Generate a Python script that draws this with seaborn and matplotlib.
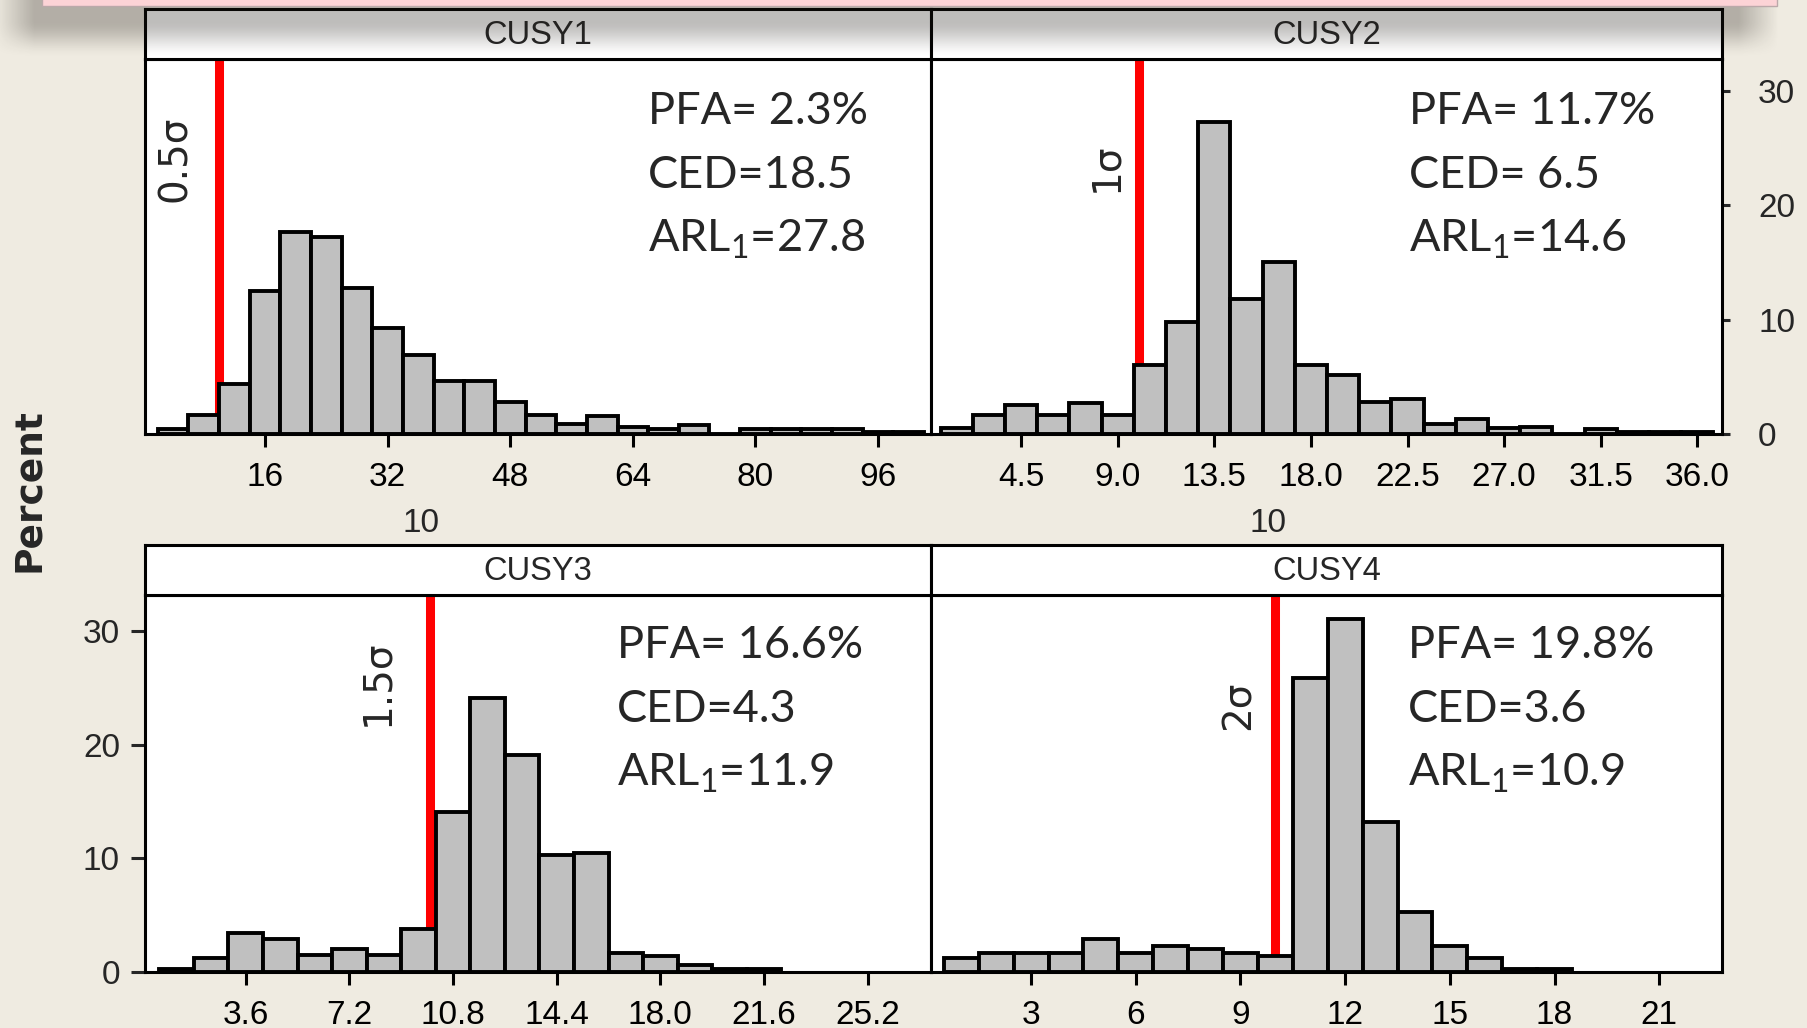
import numpy as np
import pandas as pd
import matplotlib
matplotlib.use('Agg')
import matplotlib.pyplot as plt
import seaborn as sns
from matplotlib.patches import Rectangle

sns.set_style('white')
plt.rcParams['font.family'] = ['Liberation Sans', 'DejaVu Sans']

# histogram bins (centres) and percent heights
cusy1_mid = [4, 8, 12, 16, 20, 24, 28, 32, 36, 40, 44, 48, 52, 56, 60, 64, 68, 72, 76, 80, 84, 88, 92, 96, 100]
cusy1_pct = [0.4, 1.65, 4.35, 12.5, 17.7, 17.2, 12.8, 9.3, 6.95, 4.6, 4.6, 2.8, 1.7, 0.9, 1.6, 0.6,
             0.45, 0.8, 0.0, 0.45, 0.45, 0.45, 0.45, 0.15, 0.15]

cusy2_mid = [1.5, 3.0, 4.5, 6.0, 7.5, 9.0, 10.5, 12.0, 13.5, 15.0, 16.5, 18.0, 19.5, 21.0, 22.5,
             24.0, 25.5, 27.0, 28.5, 30.0, 31.5, 33.0, 34.5, 36.0]
cusy2_pct = [0.5, 1.65, 2.5, 1.65, 2.75, 1.65, 6.05, 9.8, 27.3, 11.85, 15.05, 6.05, 5.2, 2.8, 3.1,
             0.9, 1.3, 0.55, 0.6, 0.0, 0.45, 0.15, 0.15, 0.15]

cusy3_mid = [1.2, 2.4, 3.6, 4.8, 6.0, 7.2, 8.4, 9.6, 10.8, 12.0, 13.2, 14.4, 15.6, 16.8, 18.0, 19.2, 20.4, 21.6]
cusy3_pct = [0.3, 1.2, 3.45, 2.95, 1.5, 2.05, 1.5, 3.8, 14.05, 24.1, 19.1, 10.3, 10.5, 1.7, 1.45, 0.6, 0.3, 0.3]

cusy4_mid = [1, 2, 3, 4, 5, 6, 7, 8, 9, 10, 11, 12, 13, 14, 15, 16, 17, 18]
cusy4_pct = [1.2, 1.7, 1.7, 1.7, 2.95, 1.7, 2.3, 2.05, 1.7, 1.4, 25.85, 31.1, 13.2, 5.25, 2.3, 1.2, 0.3, 0.3]

bin_width = [4, 1.5, 1.2, 1.0]
panel_names = ['CUSY1', 'CUSY2', 'CUSY3', 'CUSY4']
x_ticks = [[16, 32, 48, 64, 80, 96],
           [4.5, 9.0, 13.5, 18.0, 22.5, 27.0, 31.5, 36.0],
           [3.6, 7.2, 10.8, 14.4, 18.0, 21.6, 25.2],
           [3, 6, 9, 12, 15, 18, 21]]
x_tick_labels = [['16', '32', '48', '64', '80', '96'],
                 ['4.5', '9.0', '13.5', '18.0', '22.5', '27.0', '31.5', '36.0'],
                 ['3.6', '7.2', '10.8', '14.4', '18.0', '21.6', '25.2'],
                 ['3', '6', '9', '12', '15', '18', '21']]
x_limits = [(0.35, 102.9), (0.3, 37.15), (0.1, 27.4), (0.13, 22.8)]
y_ticks = [0, 10, 20, 30]
limit_line = 10
sigma_labels = ['0.5σ', '1σ', '1.5σ', '2σ']
pfa = ['PFA= 2.3%', 'PFA= 11.7%', 'PFA= 16.6%', 'PFA= 19.8%']
ced = ['CED=18.5', 'CED= 6.5', 'CED=4.3', 'CED=3.6']
arl = ['27.8', '14.6', '11.9', '10.9']

mids = [cusy1_mid, cusy2_mid, cusy3_mid, cusy4_mid]
pcts = [cusy1_pct, cusy2_pct, cusy3_pct, cusy4_pct]

bg = '#EFEBE1'
W, H = 1808, 1028
fig = plt.figure(figsize=(W / 100, H / 100), dpi=100, facecolor=bg)

# panel rectangles in pixels: left, right, top, bottom
boxes = [(145, 931, 59, 434), (931, 1722, 59, 434), (145, 931, 595, 972), (931, 1722, 595, 972)]
y_top = [32.8, 32.8, 33.2, 33.2]
sigma_pos = [(0.038, 0.733), (0.222, 0.712), (0.295, 0.766), (0.389, 0.708)]
stat_x = [0.640, 0.604, 0.600, 0.603]
stat_y = [(0.860, 0.689, 0.519), (0.860, 0.689, 0.519), (0.866, 0.696, 0.526), (0.866, 0.696, 0.526)]

lw = 2.2
for i in range(4):
    l, r, t, b = boxes[i]
    ax = fig.add_axes([l / W, 1 - b / H, (r - l) / W, (b - t) / H])
    ax.set_facecolor('white')
    df = pd.DataFrame({'mid': mids[i], 'pct': pcts[i]})
    w = bin_width[i]
    edges = [m - w / 2 for m in mids[i]] + [mids[i][-1] + w / 2]
    sns.histplot(data=df, x='mid', weights='pct', bins=edges, ax=ax, color='#C0C0C0',
                 edgecolor='black', linewidth=2.8, alpha=1, zorder=2)
    ax.axvline(limit_line, color='#FF0000', lw=6.5, zorder=1)
    ax.set_xlim(*x_limits[i])
    ax.set_ylim(0, y_top[i])
    ax.set_xlabel('')
    ax.set_ylabel('')
    ax.set_xticks(x_ticks[i])
    ax.set_xticklabels(x_tick_labels[i])
    ax.tick_params(axis='x', direction='out', length=9, width=2.2, pad=11, labelsize=24,
                   bottom=True, colors='black')
    if i == 1:
        ax.yaxis.tick_right()
        ax.set_yticks(y_ticks)
        ax.tick_params(axis='y', direction='out', length=6, width=2.2, pad=20, labelsize=24,
                       right=True, left=False)
    elif i == 2:
        ax.set_yticks(y_ticks)
        ax.tick_params(axis='y', direction='out', length=10, width=2.2, pad=8, labelsize=24, left=True)
    else:
        ax.set_yticks([])
    for s in ax.spines.values():
        s.set_visible(True)
        s.set_color('black')
        s.set_linewidth(lw)

    ax.text(sigma_pos[i][0], sigma_pos[i][1], sigma_labels[i], transform=ax.transAxes,
            rotation=90, ha='center', va='center', fontsize=28, family=['DejaVu Sans'])
    sx = stat_x[i]
    sy = stat_y[i]
    ax.text(sx, sy[0], pfa[i], transform=ax.transAxes, ha='left', va='center',
            fontsize=32.5, family=['Lato'])
    ax.text(sx, sy[1], ced[i], transform=ax.transAxes, ha='left', va='center',
            fontsize=32.5, family=['Lato'])
    ax.text(sx, sy[2], r'ARL$_\mathregular{1}$=' + arl[i], transform=ax.transAxes,
            ha='left', va='center', fontsize=32.5, family=['Lato'])
    if i < 2:
        ax.text([0.351, 0.426][i], -0.24, '10', transform=ax.transAxes, ha='center',
                va='center', fontsize=24)

    # strip with the panel name
    sax = fig.add_axes([l / W, 1 - t / H, (r - l) / W, 50 / H])
    sax.set_facecolor('white')
    sax.set_xticks([])
    sax.set_yticks([])
    for s in sax.spines.values():
        s.set_color('black')
        s.set_linewidth(lw)
    sax.text(0.5, 0.48, panel_names[i], ha='center', va='center', fontsize=23.5,
             transform=sax.transAxes)

fig.text(29 / W, 1 - 490 / H, 'Percent', rotation=90, ha='center', va='center',
         fontsize=27, fontweight='bold', family=['DejaVu Sans'])

# drop shadow of the box sitting on top of the chart
sh = 64
yy = np.arange(sh)[:, None]
xx = np.arange(W)[None, :]
fy = np.clip((yy - 20) / 38.0, 0, 1)
ay = 0.29 * (1 - (3 * fy ** 2 - 2 * fy ** 3))
fl = np.clip((xx + 6) / 40.0, 0, 1)
fr = np.clip((1778 - xx) / 40.0, 0, 1)
ax_ = np.minimum(fl, fr)
alpha = ay * ax_
img = np.zeros((sh, W, 4))
img[..., 0] = 0.12
img[..., 1] = 0.10
img[..., 2] = 0.08
img[..., 3] = alpha
fig.figimage(img, xo=0, yo=H - sh, origin='upper', zorder=5)
fig.patches.append(Rectangle((42 / W, 1 - 6 / H), (1777 - 42) / W, 8 / H, transform=fig.transFigure,
                             facecolor='#FCD3D6', edgecolor='#BBA9AA', lw=1, zorder=6))

fig.savefig('out.png', dpi=100, facecolor=bg)
